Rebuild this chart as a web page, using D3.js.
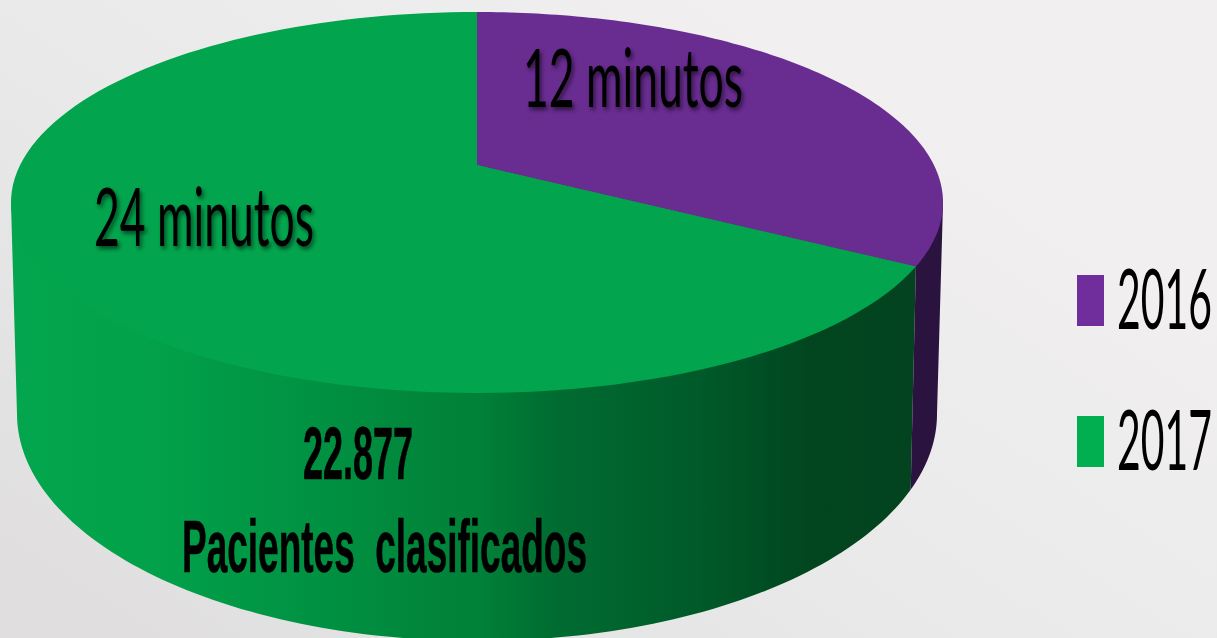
<!DOCTYPE html>
<html>
<head>
<meta charset="utf-8">
<script src="https://cdn.jsdelivr.net/npm/d3@7"></script>
<style>
  html, body { margin: 0; padding: 0; overflow: hidden; background: #eee; }
  svg { display: block; }
  text { fill: #000; }
</style>
</head>
<body>
<div id="chart"></div>
<script>
// Données
var annees = ["2016", "2017"];
var minutes = [12, 24];
var etiquettes = ["12 minutos", "24 minutos"];
var patients = ["22.877", "Pacientes  clasificados"];
var couleurs = ["#692c91", "#02a54d"];

var width = 1217, height = 638;

var svg = d3.select("#chart").append("svg")
    .attr("width", width)
    .attr("height", height);

var defs = svg.append("defs");

// fond gris
var fond = defs.append("linearGradient").attr("id", "fond")
    .attr("x1", 0).attr("y1", 1).attr("x2", 1).attr("y2", 0.2);
fond.append("stop").attr("offset", "0%").attr("stop-color", "#dfdddd");
fond.append("stop").attr("offset", "45%").attr("stop-color", "#e9e9e9");
fond.append("stop").attr("offset", "85%").attr("stop-color", "#f1eff0");

svg.append("rect").attr("width", width).attr("height", height).attr("fill", "url(#fond)");

// dégradé du côté vert
var cote = defs.append("linearGradient").attr("id", "coteVert")
    .attr("gradientUnits", "userSpaceOnUse")
    .attr("x1", 11).attr("y1", 0).attr("x2", 916).attr("y2", 0);
[[0, "#03a64e"], [0.15, "#02a14a"], [0.32, "#009343"], [0.52, "#018038"], [0.6, "#006c31"], [0.76, "#005a2a"], [0.88, "#01461f"], [1, "#03431f"]]
    .forEach(function (s) {
        cote.append("stop").attr("offset", s[0]).attr("stop-color", s[1]);
    });

// ombre du texte
var ombre = defs.append("filter").attr("id", "ombre")
    .attr("x", "-10%").attr("y", "-20%").attr("width", "120%").attr("height", "140%");
ombre.append("feDropShadow")
    .attr("dx", 2).attr("dy", 3).attr("stdDeviation", 2)
    .attr("flood-color", "#000").attr("flood-opacity", 0.55);

// projection en perspective du disque : angle (sens horaire depuis le haut) vers l'écran
function projection(cx, cy, rx, ry, p) {
    return function (angle) {
        var u = Math.sin(angle), v = -Math.cos(angle);
        var d = 1 + p * v;
        return [cx + rx * u / d, cy + ry * v / d];
    };
}
var centre = [477, 165];
var haut = projection(centre[0], centre[1], 456.9, 183.1, -0.197);
var bas = projection(477, 368.6, 450.7, 217.9, -0.2);

// angle où le bord de l'ellipse est le plus à droite (silhouette)
var silHaut = Math.acos(-0.197);
var silBas = Math.acos(-0.2);

var pie = d3.pie().sort(null).value(function (d) { return d; });
var parts = pie(minutes);

var ligne = d3.line();

function echantillon(f, a0, a1) {
    return d3.range(0, 121).map(function (i) {
        return f(a0 + (a1 - a0) * i / 120);
    });
}

// côtés : vert puis violet (passent sous le dessus pour éviter un liseré)
var p0 = parts[0], p1 = parts[1];
svg.append("path")
    .attr("d", ligne([centre, haut(2 * Math.PI - silHaut)]
        .concat(echantillon(bas, 2 * Math.PI - silBas, p1.startAngle))
        .concat([haut(p1.startAngle)])) + "Z")
    .attr("fill", "url(#coteVert)");
svg.append("path")
    .attr("d", ligne([centre, haut(silHaut)]
        .concat(echantillon(bas, silBas, p0.endAngle))
        .concat([haut(p0.endAngle)])) + "Z")
    .attr("fill", "#2b1340");

// dessus du camembert
svg.selectAll(".part")
    .data(parts)
    .enter().append("path")
    .attr("class", "part")
    .attr("d", function (d) {
        return ligne([centre].concat(echantillon(haut, d.startAngle, d.endAngle))) + "Z";
    })
    .attr("fill", function (d, i) { return couleurs[i]; });

// étiquettes des parts
var posEtiquettes = [[523, 107], [94, 246]];
svg.selectAll(".etiquette")
    .data(etiquettes)
    .enter().append("text")
    .attr("class", "etiquette")
    .attr("x", function (d, i) { return posEtiquettes[i][0]; })
    .attr("y", function (d, i) { return posEtiquettes[i][1]; })
    .attr("font-family", "Lato")
    .attr("font-size", 82)
    .attr("textLength", 220)
    .attr("lengthAdjust", "spacingAndGlyphs")
    .attr("filter", "url(#ombre)")
    .text(function (d) { return d; });

// texte des patients
var posPatients = [[303, 479, 110], [182, 572, 405]];
svg.selectAll(".patients")
    .data(patients)
    .enter().append("text")
    .attr("class", "patients")
    .attr("x", function (d, i) { return posPatients[i][0]; })
    .attr("y", function (d, i) { return posPatients[i][1]; })
    .attr("font-family", "Liberation Sans")
    .attr("font-weight", "bold")
    .attr("font-size", 74)
    .attr("stroke", "#000")
    .attr("stroke-width", 0.6)
    .attr("textLength", function (d, i) { return posPatients[i][2]; })
    .attr("lengthAdjust", "spacingAndGlyphs")
    .style("white-space", "pre")
    .text(function (d) { return d; });

// légende
var yLegende = d3.scalePoint().domain(annees).range([300.5, 441.5]);
var legende = svg.selectAll(".legende")
    .data(annees)
    .enter().append("g")
    .attr("class", "legende")
    .attr("transform", function (d) { return "translate(0," + yLegende(d) + ")"; });

legende.append("rect")
    .attr("x", 1077)
    .attr("y", -25.5)
    .attr("width", 27)
    .attr("height", 51)
    .attr("fill", function (d, i) { return i === 0 ? "#702e9c" : "#01ae50"; });

legende.append("text")
    .attr("transform", "translate(1117,28) scale(0.487,1)")
    .attr("font-family", "Lato")
    .attr("font-size", 84)
    .text(function (d) { return d; });
</script>
</body>
</html>
